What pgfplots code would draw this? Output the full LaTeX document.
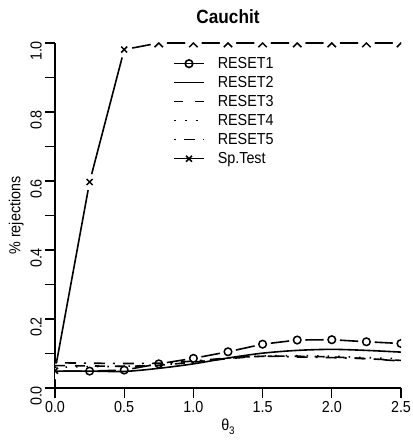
\documentclass[border=0pt]{standalone}
\usepackage{pgfplots}
\pgfplotsset{compat=1.18}
\usepackage{fontspec}
\setmainfont{Liberation Sans}[FakeStretch=0.9]
\pgfdeclareplotmark{halfx}{%
  \pgfpathmoveto{\pgfqpoint{-\pgfplotmarksize}{-\pgfplotmarksize}}%
  \pgfpathlineto{\pgfqpoint{0pt}{0pt}}%
  \pgfpathlineto{\pgfqpoint{\pgfplotmarksize}{-\pgfplotmarksize}}%
  \pgfusepathqstroke}
\pgfplotstableread{
t r1 r2 r3 r4 r5 sp
0.00 0.049 0.049 0.065 0.060 0.073 0.050
0.25 0.049 0.049 0.064 0.062 0.072 0.597
0.50 0.052 0.048 0.063 0.063 0.071 0.981
0.75 0.070 0.057 0.066 0.067 0.072 1.000
1.00 0.086 0.070 0.075 0.075 0.078 1.000
1.25 0.105 0.087 0.085 0.086 0.087 1.000
1.50 0.127 0.101 0.092 0.093 0.092 1.000
1.75 0.139 0.109 0.092 0.094 0.090 1.000
2.00 0.140 0.112 0.090 0.092 0.088 1.000
2.25 0.134 0.109 0.085 0.088 0.085 1.000
2.50 0.129 0.104 0.080 0.085 0.078 1.000
}\data
\begin{document}
\begin{tikzpicture}
\useasboundingbox (-55bp,-53bp) rectangle (358bp,388bp);
\begin{axis}[
  at={(0,0)}, anchor=south west,
  scale only axis, width=346bp, height=345bp,
  xmin=0, xmax=2.5, ymin=0, ymax=1,
  axis lines=left, axis line style={-, line width=1.3bp},
  tick align=outside, major tick length=9.6bp, minor tick length=9.6bp,
  every tick/.style={line width=1.3bp, black},
  xtick={0,0.5,1,1.5,2,2.5}, xticklabels={0.0,0.5,1.0,1.5,2.0,2.5},
  ytick={0,0.2,0.4,0.6,0.8,1}, yticklabels={0.0,0.2,0.4,0.6,0.8,1.0},
  minor ytick={0.1,0.3,0.5,0.7,0.9},
  ticklabel style={font=\fontsize{16}{19}\selectfont},
  yticklabel style={rotate=90, anchor=south, xshift=-8bp},
  xlabel={θ\raisebox{-0.4ex}{\fontsize{11}{11}\selectfont 3}},
  ylabel={\% rejections},
  label style={font=\fontsize{16}{19}\selectfont},
  title={\bfseries Cauchit},
  title style={font=\fontsize{19.2}{22}\selectfont, yshift=10bp},
  clip marker paths=true,
  legend style={draw=none, fill=none, at={(118bp,332bp)}, anchor=north west,
    inner sep=0pt, font=\fontsize{16}{19}\selectfont, row sep=4bp,
    cells={anchor=west}, nodes={inner ysep=0pt, inner xsep=7bp, text height=12bp, text depth=3bp},
    /tikz/every odd column/.style={column sep=6bp}},
  legend image code/.code={\draw[mark repeat=2,mark phase=2,#1] plot coordinates {(0bp,0bp) (15bp,0bp) (30bp,0bp)};},
]
% RESET1
\addplot[black, line width=1.6bp, mark=none, forget plot] table[x=t,y=r1] {\data};
\addplot[only marks, mark=*, mark size=8bp, white, forget plot] table[x=t,y=r1] {\data};
\addplot[only marks, mark=o, mark size=3.8bp, black, line width=1.5bp, forget plot] table[x=t,y=r1] {\data};
% Sp.Test
\addplot[black, line width=1.6bp, mark=none, forget plot] table[x=t,y=sp] {\data};
\addplot[only marks, mark=*, mark size=8bp, white, forget plot] table[x=t,y=sp] {\data};
\addplot[only marks, mark=x, mark size=4.2bp, black, line width=1.5bp, forget plot, restrict y to domain=0:0.995] table[x=t,y=sp] {\data};
\addplot[only marks, mark=halfx, mark size=4.2bp, black, line width=1.5bp, forget plot, restrict y to domain=0.995:1.01] table[x=t,y=sp] {\data};
% RESET2-5
\addplot[black, line width=1.6bp, smooth, mark=none, forget plot] table[x=t,y=r2] {\data};
\addplot[black, line width=1.6bp, smooth, dash pattern=on 10bp off 10bp, mark=none, forget plot] table[x=t,y=r3] {\data};
\addplot[black, line width=1.6bp, smooth, dash pattern=on 1.5bp off 9bp, mark=none, forget plot] table[x=t,y=r4] {\data};
\addplot[black, line width=1.6bp, smooth, dash pattern=on 2bp off 8bp on 11bp off 8bp, mark=none, forget plot] table[x=t,y=r5] {\data};
\addlegendimage{black, line width=1.6bp, mark=o, mark size=3.8bp}
\addlegendentry{RESET1}
\addlegendimage{black, line width=1.6bp}
\addlegendentry{RESET2}
\addlegendimage{black, line width=1.6bp, dash pattern=on 9bp off 12bp}
\addlegendentry{RESET3}
\addlegendimage{black, line width=1.6bp, dash pattern=on 1.5bp off 9.5bp}
\addlegendentry{RESET4}
\addlegendimage{black, line width=1.6bp, dash pattern=on 2bp off 8bp on 11bp off 8bp}
\addlegendentry{RESET5}
\addlegendimage{black, line width=1.6bp, mark=x, mark size=4.2bp}
\addlegendentry{Sp.Test}
\end{axis}
\end{tikzpicture}
\end{document}
